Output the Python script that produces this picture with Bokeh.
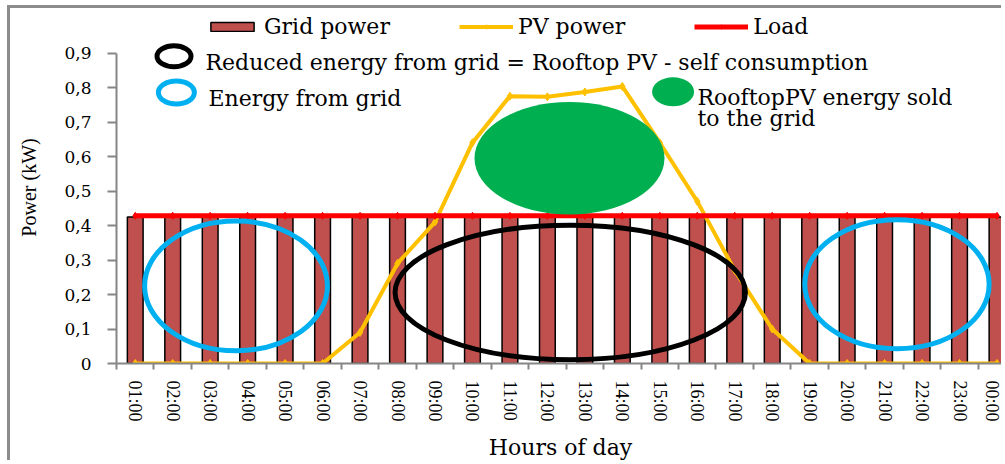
import numpy as np
from bokeh.plotting import figure
from bokeh.models import (Range1d, FixedTicker, CustomJSTickFormatter, Legend,
                          LegendItem, ColumnDataSource)
from bokeh.core.properties import value
from bokeh.embed import file_html
from bokeh.resources import INLINE

# ---------------- data ----------------
hours = ["01:00", "02:00", "03:00", "04:00", "05:00", "06:00", "07:00", "08:00",
         "09:00", "10:00", "11:00", "12:00", "13:00", "14:00", "15:00", "16:00",
         "17:00", "18:00", "19:00", "20:00", "21:00", "22:00", "23:00", "00:00"]
grid_power = [0.425, 0.425, 0.425, 0.425, 0.425, 0.425, 0.425, 0.425,
              0.425, 0.425, 0.425, 0.425, 0.425, 0.425, 0.425, 0.425,
              0.425, 0.425, 0.425, 0.425, 0.425, 0.425, 0.425, 0.425]
pv_power = [0, 0, 0, 0, 0, 0, 0.09, 0.29,
            0.41, 0.64, 0.775, 0.773, 0.787, 0.803, 0.64, 0.47,
            0.27, 0.10, 0, 0, 0, 0, 0, 0]
load = [0.428, 0.428, 0.428, 0.428, 0.428, 0.428, 0.428, 0.428,
        0.428, 0.428, 0.428, 0.428, 0.428, 0.428, 0.428, 0.428,
        0.428, 0.428, 0.428, 0.428, 0.428, 0.428, 0.428, 0.428]
y_tick_values = [0, 0.1, 0.2, 0.3, 0.4, 0.5, 0.6, 0.7, 0.8, 0.9]
y_tick_labels = ["0", "0,1", "0,2", "0,3", "0,4", "0,5", "0,6", "0,7", "0,8", "0,9"]

x_pos = list(range(1, len(hours) + 1))
src = ColumnDataSource(dict(x=x_pos, hour=hours, grid=grid_power, pv=pv_power, load=load))

# ---------------- colours / styles ----------------
BAR = "#C0504D"
PV = "#FFC000"
LOAD = "#FF0000"
BLUE = "#00B0F0"
GREEN = "#00B050"
AXIS = "#868686"
SERIF = "DejaVu Serif"
TIMES = "Liberation Serif"

p = figure(width=994, height=455, output_backend="svg", toolbar_location=None,
           x_range=Range1d(0.5, 24.2), y_range=Range1d(0, 1.0203),
           min_border_left=106, min_border_right=0, min_border_top=3,
           min_border_bottom=100, x_axis_label="Hours of day",
           y_axis_label="Power (kW)")
p.styles = {"margin-left": "7px", "margin-top": "5px",
            "border-top": "3px solid #8c8c8c", "border-left": "3px solid #8c8c8c"}
p.outline_line_color = None
p.xgrid.visible = False
p.ygrid.visible = False

# ---- series ----
bars = p.vbar(x="x", top="grid", width=0.42, source=src, fill_color=BAR,
              line_color="black", line_width=1.5)
pv_line = p.line("x", "pv", source=src, line_color=PV, line_width=4)
pv_pts = p.scatter("x", "pv", source=src, marker="diamond", size=8,
                   fill_color=PV, line_color=PV)
load_line = p.line("x", "load", source=src, line_color=LOAD, line_width=5)
load_pts = p.scatter("x", "load", source=src, marker="diamond", size=7,
                     fill_color=LOAD, line_color=LOAD)

# ---- highlight ellipses (annotations) ----
p.ellipse(x=[12.59], y=[0.595], width=[5.07], height=[0.326],
          fill_color=GREEN, line_color=None)
p.ellipse(x=[12.61], y=[0.206], width=[9.35], height=[0.39],
          fill_color=None, line_color="black", line_width=5)
p.ellipse(x=[3.69, 21.33], y=[0.225, 0.23], width=[4.88, 4.92], height=[0.376, 0.374],
          fill_color=None, line_color=BLUE, line_width=5)

# ---- key rings and texts ----
p.ellipse(x=[2.035], y=[0.8907], width=[34], height=[21], width_units="screen",
          height_units="screen", fill_color=None, line_color="black", line_width=5)
p.ellipse(x=[2.098], y=[0.7855], width=[36], height=[23], width_units="screen",
          height_units="screen", fill_color=None, line_color=BLUE, line_width=5)
p.ellipse(x=[15.355], y=[0.7875], width=[42], height=[29], width_units="screen",
          height_units="screen", fill_color=GREEN, line_color=None)
p.text(x=[2.876, 2.956, 16.007, 16.007], y=[0.8733, 0.7672, 0.7719, 0.7093],
       text=["Reduced energy from grid = Rooftop PV - self consumption",
             "Energy from grid", "RooftopPV energy sold", "to the grid"],
       text_font=value(SERIF), text_font_size="22px", text_baseline="alphabetic",
       text_color="black")

# ---- legend ----
legend = Legend(items=[LegendItem(label="Grid power", renderers=[bars]),
                       LegendItem(label="PV power", renderers=[pv_line, pv_pts]),
                       LegendItem(label="Load", renderers=[load_line, load_pts])],
                orientation="horizontal", location=(89, 324), spacing=69,
                glyph_width=54, glyph_height=11, label_standoff=5, padding=0,
                margin=0, border_line_color=None, background_fill_alpha=0,
                label_text_font=SERIF, label_text_font_size="22px",
                label_text_color="black")
p.add_layout(legend)

# ---- axes ----
xa = p.xaxis[0]
xa.ticker = FixedTicker(ticks=x_pos, minor_ticks=[i + 0.5 for i in range(len(hours) + 1)])
xa.formatter = CustomJSTickFormatter(args=dict(labels=hours),
                                     code="return labels[Math.round(tick) - 1];")
xa.axis_line_color = AXIS
xa.axis_line_width = 2
xa.major_tick_line_color = None
xa.major_tick_out = 6
xa.major_tick_in = 0
xa.minor_tick_line_color = AXIS
xa.minor_tick_line_width = 2
xa.minor_tick_out = 6
xa.minor_tick_in = 0
xa.major_label_orientation = "vertical"
xa.major_label_standoff = 11
xa.major_label_text_font = TIMES
xa.major_label_text_font_size = "18px"
xa.major_label_text_color = "black"
xa.axis_label_standoff = 10
xa.axis_label_text_font = SERIF
xa.axis_label_text_font_size = "22px"
xa.axis_label_text_font_style = "normal"
xa.axis_label_text_color = "black"

ya = p.yaxis[0]
ya.bounds = (0, 0.9)
ya.ticker = FixedTicker(ticks=y_tick_values, minor_ticks=[])
ya.formatter = CustomJSTickFormatter(
    args=dict(values=y_tick_values, labels=y_tick_labels),
    code="const i = values.findIndex(v => Math.abs(v - tick) < 1e-6); return i >= 0 ? labels[i] : '';")
ya.axis_line_color = AXIS
ya.axis_line_width = 2
ya.major_tick_line_color = AXIS
ya.major_tick_line_width = 2
ya.major_tick_out = 9
ya.major_tick_in = 0
ya.minor_tick_line_color = None
ya.major_label_standoff = 16
ya.major_label_text_font = SERIF
ya.major_label_text_font_size = "17px"
ya.major_label_text_color = "black"
ya.axis_label_standoff = 21
ya.axis_label_text_font = TIMES
ya.axis_label_text_font_size = "20px"
ya.axis_label_text_font_style = "normal"
ya.axis_label_text_color = "black"

open("out.html", "w").write(file_html(p, INLINE))
